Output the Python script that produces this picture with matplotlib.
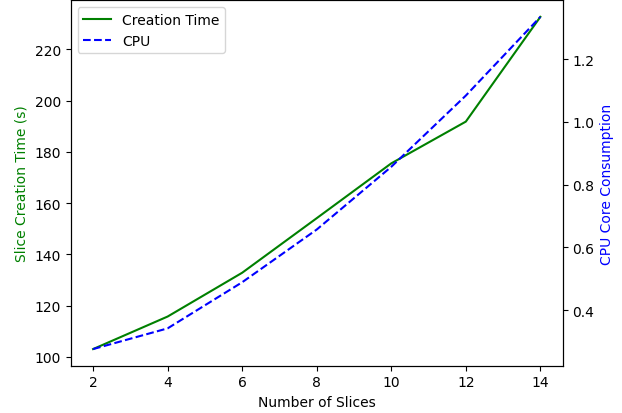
import matplotlib.pyplot as plt

slices = [2, 4, 6, 8, 10, 12, 14]
creation_time = [103, 115.7, 132.8, 154.1, 175.5, 191.8, 232.7]
cpu = [0.276, 0.342, 0.489, 0.657, 0.857, 1.084, 1.335]

fig, ax1 = plt.subplots(figsize=(6.22, 4.14), dpi=100)
l1, = ax1.plot(slices, creation_time, color='green', label='Creation Time')
ax1.set_xlabel('Number of Slices')
ax1.set_ylabel('Slice Creation Time (s)', color='green')

ax2 = ax1.twinx()
l2, = ax2.plot(slices, cpu, color='blue', linestyle='--', label='CPU')
ax2.set_ylabel('CPU Core Consumption', color='blue')

ax1.legend(handles=[l1, l2], loc='upper left')
fig.subplots_adjust(left=0.1137, right=0.9047, top=0.997, bottom=0.1143)
fig.savefig('out.png')
